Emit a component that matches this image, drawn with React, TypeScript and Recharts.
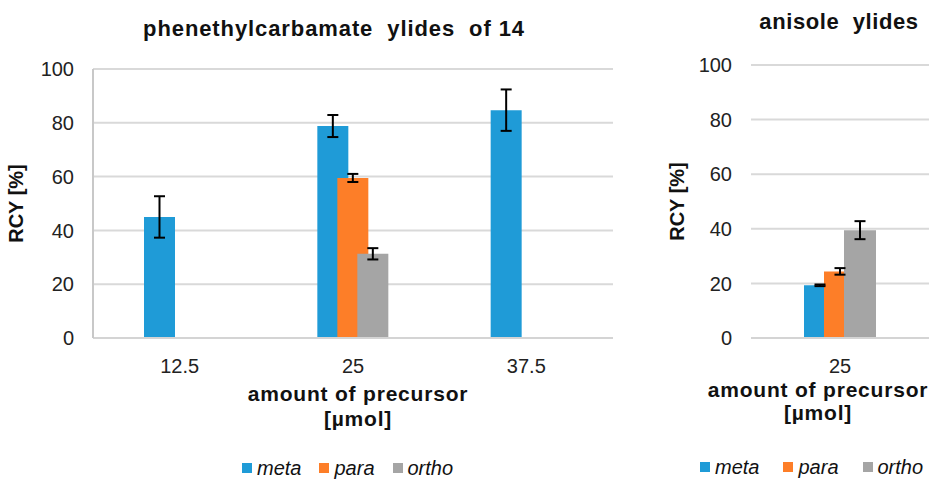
import { BarChart, Bar, XAxis, YAxis, CartesianGrid, Legend, ErrorBar } from "recharts";

const FONT = '"Liberation Sans", Arial, sans-serif';

// left panel: phenethylcarbamate ylides of 14
const leftCategories = ["12.5", "25", "37.5"];
const leftMeta = [45, 78.8, 84.7];
const leftMetaErr = [7.7, 4.1, 7.7];
const leftPara = [null, 59.5, null];
const leftParaErr = [null, 1.5, null];
const leftOrtho = [null, 31.3, null];
const leftOrthoErr = [null, 2.1, null];

// right panel: anisole ylides
const rightCategories = ["25"];
const rightMeta = [19.3];
const rightMetaErr = [0.3];
const rightPara = [24.4];
const rightParaErr = [1.2];
const rightOrtho = [39.5];
const rightOrthoErr = [3.3];

const yTicks = [0, 20, 40, 60, 80, 100];
const seriesOrder = ["meta", "para", "ortho"];

const COLORS = { meta: "#1f9bd7", para: "#fd7e28", ortho: "#a5a5a5" };

const leftData = leftCategories.map((amount, i) => ({
    amount,
    meta: leftMeta[i],
    metaErr: leftMetaErr[i],
    para: leftPara[i],
    paraErr: leftParaErr[i],
    ortho: leftOrtho[i],
    orthoErr: leftOrthoErr[i],
}));

const rightData = rightCategories.map((amount, i) => ({
    amount,
    meta: rightMeta[i],
    metaErr: rightMetaErr[i],
    para: rightPara[i],
    paraErr: rightParaErr[i],
    ortho: rightOrtho[i],
    orthoErr: rightOrthoErr[i],
}));

function YTitle({ viewBox, cx }: any) {
    const x = (viewBox?.x ?? 0) + cx;
    const y = (viewBox?.y ?? 0) + (viewBox?.height ?? 0) / 2;
    return (
        <text
            x={x}
            y={y}
            transform={`rotate(-90 ${x} ${y})`}
            textAnchor="middle"
            dominantBaseline="central"
            fontFamily={FONT}
            fontWeight="bold"
            fontSize={20}
            fill="#111"
        >
            RCY [%]
        </text>
    );
}

function XTitle({ viewBox, dx, top, gap }: any) {
    const x = (viewBox?.x ?? 0) + (viewBox?.width ?? 0) / 2 + dx;
    const y = (viewBox?.y ?? 0) + top;
    return (
        <text
            textAnchor="middle"
            fontFamily={FONT}
            fontWeight="bold"
            fontSize={21}
            letterSpacing={0.8}
            fill="#111"
        >
            <tspan x={x} y={y}>amount of precursor</tspan>
            <tspan x={x} y={y + gap}>[µmol]</tspan>
        </text>
    );
}

function LegendBox({ payload, spacing }: any) {
    const items = [...(payload || [])].sort(
        (a: any, b: any) => seriesOrder.indexOf(a.value) - seriesOrder.indexOf(b.value)
    );
    return (
        <div
            style={{
                display: "flex",
                alignItems: "center",
                height: 24,
                fontFamily: FONT,
                fontStyle: "italic",
                fontSize: 20,
                color: "#111",
                whiteSpace: "nowrap",
            }}
        >
            {items.map((p: any) => (
                <span key={p.value} style={{ display: "flex", alignItems: "center", marginRight: spacing }}>
                    <span style={{ width: 10, height: 10, background: p.color, marginRight: 5 }} />
                    {p.value}
                </span>
            ))}
        </div>
    );
}

function Panel({ data, width, top, yAxisWidth, yTitleX, barSize, barGap, showYLine, xTitle, legendPos, legendSpacing }: any) {
    return (
        <BarChart
            width={width}
            height={479}
            data={data}
            margin={{ top, right: width === 640 ? 27 : 0, left: 0, bottom: 0 }}
            barSize={barSize}
            barGap={barGap}
        >
            <CartesianGrid vertical={false} stroke="#d9d9d9" strokeWidth={2} />
            <XAxis
                dataKey="amount"
                interval={0}
                tickLine={false}
                tickSize={0}
                tickMargin={21}
                axisLine={{ stroke: "#d4d4d4", strokeWidth: 2 }}
                tick={{ fontSize: 20, fill: "#222", fontFamily: FONT }}
                height={117}
                label={<XTitle {...xTitle} />}
            />
            <YAxis
                type="number"
                domain={[0, 100]}
                ticks={yTicks}
                width={yAxisWidth}
                tickLine={false}
                tickSize={0}
                tickMargin={19}
                axisLine={showYLine ? { stroke: "#c8c8c8", strokeWidth: 2 } : false}
                tick={{ fontSize: 20, fill: "#222", fontFamily: FONT }}
                label={<YTitle cx={yTitleX} />}
            />
            <Legend content={<LegendBox spacing={legendSpacing} />} wrapperStyle={legendPos} />
            <Bar dataKey="meta" name="meta" fill={COLORS.meta} isAnimationActive={false}>
                <ErrorBar dataKey="metaErr" width={5.5} stroke="#000" strokeWidth={2} direction="y" />
            </Bar>
            <Bar dataKey="para" name="para" fill={COLORS.para} isAnimationActive={false}>
                <ErrorBar dataKey="paraErr" width={5.5} stroke="#000" strokeWidth={2} direction="y" />
            </Bar>
            <Bar dataKey="ortho" name="ortho" fill={COLORS.ortho} isAnimationActive={false}>
                <ErrorBar dataKey="orthoErr" width={5.5} stroke="#000" strokeWidth={2} direction="y" />
            </Bar>
        </BarChart>
    );
}

export default function App() {
    return (
        <div
            style={{
                position: "fixed",
                left: 0,
                top: 0,
                width: 929,
                height: 479,
                overflow: "hidden",
                background: "#fff",
            }}
        >
            <div style={{ position: "absolute", left: 0, top: 0 }}>
                <Panel
                    data={leftData}
                    width={640}
                    top={69}
                    yAxisWidth={93}
                    yTitleX={16}
                    barSize={31}
                    barGap={-11}
                    showYLine
                    xTitle={{ dx: 5, top: 63, gap: 25 }}
                    legendPos={{ left: 242, top: 456, width: 260 }}
                    legendSpacing={18}
                />
            </div>
            <div style={{ position: "absolute", left: 640, top: 0 }}>
                <Panel
                    data={rightData}
                    width={289}
                    top={65}
                    yAxisWidth={111}
                    yTitleX={37}
                    barSize={32}
                    barGap={-12}
                    showYLine={false}
                    xTitle={{ dx: -22, top: 59, gap: 23 }}
                    legendPos={{ left: 60, top: 455, width: 240 }}
                    legendSpacing={24}
                />
            </div>
            <svg
                width={929}
                height={479}
                style={{ position: "absolute", left: 0, top: 0, pointerEvents: "none" }}
            >
                <text
                    x={334}
                    y={36}
                    textAnchor="middle"
                    fontFamily={FONT}
                    fontWeight="bold"
                    fontSize={22}
                    letterSpacing={0.9}
                    fill="#111"
                    style={{ whiteSpace: "pre" }}
                >
                    {"phenethylcarbamate  ylides  of 14"}
                </text>
                <text
                    x={839}
                    y={29}
                    textAnchor="middle"
                    fontFamily={FONT}
                    fontWeight="bold"
                    fontSize={22}
                    letterSpacing={0.6}
                    fill="#111"
                    style={{ whiteSpace: "pre" }}
                >
                    {"anisole  ylides"}
                </text>
            </svg>
        </div>
    );
}
